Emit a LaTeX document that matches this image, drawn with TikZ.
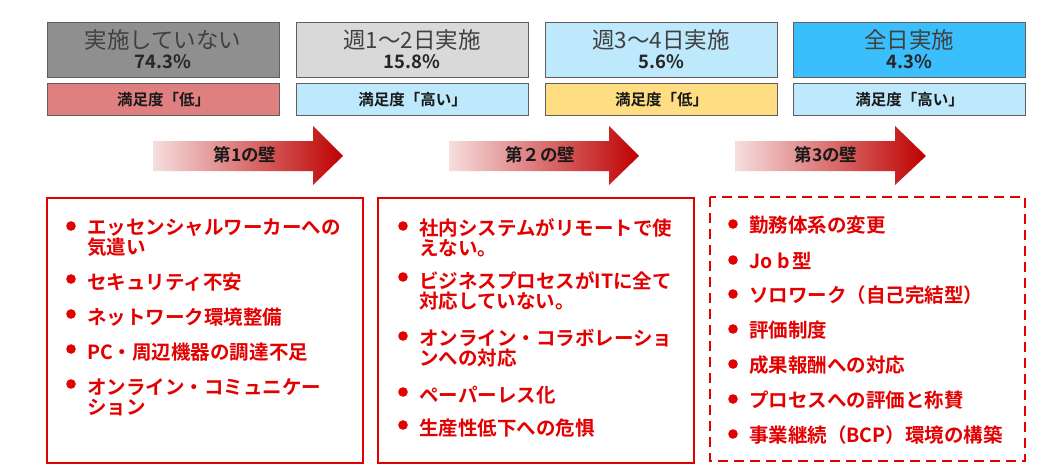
\documentclass[tikz,border=0pt]{standalone}
\usepackage{fontspec}
\setmainfont{Noto Sans CJK JP}[BoldFont={Noto Sans CJK JP Bold}]
\definecolor{boxgray}{RGB}{95,95,95}
\definecolor{fillA}{RGB}{143,143,143}
\definecolor{fillB}{RGB}{217,217,217}
\definecolor{fillC}{RGB}{190,233,252}
\definecolor{fillD}{RGB}{58,190,252}
\definecolor{fillR}{RGB}{224,127,128}
\definecolor{fillY}{RGB}{255,221,130}
\definecolor{titlegray}{RGB}{64,64,64}
\definecolor{redzero}{RGB}{226,0,0}
\definecolor{arrowlight}{RGB}{246,222,222}
\definecolor{arrowdark}{RGB}{190,0,0}
\newcommand{\itemfont}{\bfseries\fontsize{19.5}{20}\selectfont}
\begin{document}
\begin{tikzpicture}[x=1pt,y=-1pt,
  topbox/.style={draw=boxgray, line width=1.1pt, anchor=north west, minimum width=232pt, minimum height=55pt, inner sep=0},
  satbox/.style={draw=boxgray, line width=1.1pt, anchor=north west, minimum width=232pt, minimum height=32pt, inner sep=0, font=\bfseries\fontsize{15.5}{16}\selectfont, text=black!90},
  titletext/.style={inner sep=0, font=\fontsize{22.5}{24}\selectfont, text=titlegray},
  pcttext/.style={inner sep=0, font=\bfseries\fontsize{18.5}{20}\selectfont, text=black!85},
  walltext/.style={inner sep=0, font=\bfseries\fontsize{17.5}{18}\selectfont, text=black!90},
  itemtext/.style={anchor=west, inner sep=0, font=\itemfont, text=redzero, align=left},
  bulletdot/.style={fill=redzero}
]
\useasboundingbox (0,0) rectangle (1064,469);
% top boxes
\node[topbox, fill=fillA] (t1) at (47,22) {};
\node[topbox, fill=fillB] (t2) at (296,22) {};
\node[topbox, fill=fillC] (t3) at (545,22) {};
\node[topbox, fill=fillD] (t4) at (793,22) {};
\node[titletext] (t1a) at (163,40) {実施していない};
\node[titletext] (t2a) at (412,40) {週1～2日実施};
\node[titletext] (t3a) at (661,40) {週3～4日実施};
\node[titletext] (t4a) at (909,40) {全日実施};
\node[pcttext] (t1b) at (163,62) {74.3\%};
\node[pcttext] (t2b) at (412,62) {15.8\%};
\node[pcttext] (t3b) at (661,62) {5.6\%};
\node[pcttext] (t4b) at (909,62) {4.3\%};
% satisfaction boxes
\node[satbox, fill=fillR] (s1) at (47,83) {満足度「低」};
\node[satbox, fill=fillC] (s2) at (296,83) {満足度「高い」};
\node[satbox, fill=fillY] (s3) at (545,83) {満足度「低」};
\node[satbox, fill=fillC] (s4) at (793,83) {満足度「高い」};
% arrows
\shade[left color=arrowlight, right color=arrowdark] (153,141) -- (313,141) -- (313,126) -- (343,156) -- (313,185) -- (313,171) -- (153,171) -- cycle;
\shade[left color=arrowlight, right color=arrowdark] (449,141) -- (609,141) -- (609,126) -- (639,156) -- (609,185) -- (609,171) -- (449,171) -- cycle;
\shade[left color=arrowlight, right color=arrowdark] (735,141) -- (895,141) -- (895,126) -- (926,156) -- (895,185) -- (895,171) -- (735,171) -- cycle;
\node[walltext] (w1) at (245,155) {第1の壁};
\node[walltext] (w2) at (540,155) {第２の壁};
\node[walltext] (w3) at (826,155) {第3の壁};
% list boxes
\draw[redzero, line width=2pt] (47,198) rectangle (363,463);
\draw[redzero, line width=2pt] (378,198) rectangle (694,463);
\draw[redzero, line width=2pt, dash pattern=on 10pt off 6pt] (710,197) rectangle (1025,461);
% box 1
\foreach \y in {226,279,314,349,384} \fill[bulletdot] (71,\y) circle (4.8);
\node[itemtext] (a1) at (87,238) {エッセンシャルワーカーへの\\気遣い};
\node[itemtext] (a2) at (87,282) {セキュリティ不安};
\node[itemtext] (a3) at (87,317) {ネットワーク環境整備};
\node[itemtext] (a4) at (87,352) {PC・周辺機器の調達不足};
\node[itemtext] (a5) at (87,397) {オンライン・コミュニケー\\ション};
% box 2
\foreach \y in {226,277,336,392,425} \fill[bulletdot] (403,\y) circle (4.8);
\node[itemtext] (b1) at (419,238) {社内システムがリモートで使\\えない。};
\node[itemtext] (b2) at (419,291) {ビジネスプロセスがITに全て\\対応していない。};
\node[itemtext] (b3) at (419,348) {オンライン・コラボレーショ\\ンへの対応};
\node[itemtext] (b4) at (419,395) {ペーパーレス化};
\node[itemtext] (b5) at (419,428) {生産性低下への危惧};
% box 3
\foreach \y in {224,260,294,329,364,399,434} \fill[bulletdot] (733,\y) circle (4.8);
\node[itemtext] (c1) at (749,225) {勤務体系の変更};
\node[itemtext] (c2) at (749,261) {Jo\hspace{5pt}b\hspace{2pt}型};
\node[itemtext] (c3) at (749,295) {ソロワーク（自己完結型）};
\node[itemtext] (c4) at (749,330) {評価制度};
\node[itemtext] (c5) at (749,365) {成果報酬への対応};
\node[itemtext] (c6) at (749,400) {プロセスへの評価と称賛};
\node[itemtext] (c7) at (749,435) {事業継続（BCP）環境の構築};
\end{tikzpicture}
\end{document}
